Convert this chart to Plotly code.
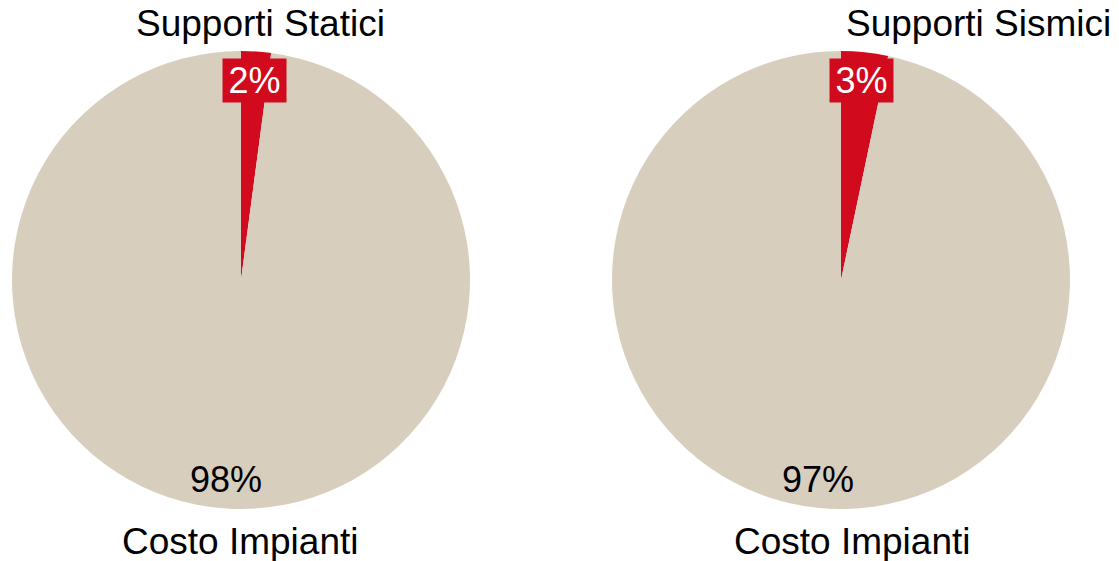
import math
import plotly.graph_objects as go

# ---- data ----
categories = ["Supporti Statici", "Costo Impianti"]
categories_right = ["Supporti Sismici", "Costo Impianti"]
values_left = [2.1, 97.9]
values_right = [3.3, 96.7]
colors = ["#D20A1E", "#D8CEBE"]

W, H = 1119, 561
R = 229
centers = [(241, 280), (841, 280)]
FONT = "Liberation Sans, Arial, sans-serif"

fig = go.Figure()
for (cx, cy), labels, vals in zip(centers, [categories, categories_right], [values_left, values_right]):
    fig.add_trace(go.Pie(
        labels=labels, values=vals, sort=False, direction="clockwise", rotation=0,
        marker=dict(colors=colors, line=dict(width=0)),
        textinfo="none", hoverinfo="label+percent", showlegend=False,
        domain=dict(x=[(cx - R) / W, (cx + R) / W], y=[1 - (cy + R) / H, 1 - (cy - R) / H]),
    ))

annotations = []
for (cx, cy), vals in zip(centers, [values_left, values_right]):
    total = sum(vals)
    start = 0.0
    for i, v in enumerate(vals):
        frac = v / total
        mid = (start + frac / 2) * 2 * math.pi
        start += frac
        rf = 0.875
        px = cx + rf * R * math.sin(mid) - (2 if i == 1 else 0)
        py = cy - rf * R * math.cos(mid)
        txt = f"{round(frac * 100):d}%"
        a = dict(x=px / W, y=1 - py / H, xref="paper", yref="paper", text=txt,
                 showarrow=False, xanchor="center", yanchor="middle",
                 font=dict(family=FONT, size=36, color="white" if i == 0 else "black"))
        if i == 0:
            a.update(bgcolor=colors[0], width=63, height=43, borderpad=0)
        annotations.append(a)

outer = [
    ("Supporti Statici", 260, 24),
    ("Costo Impianti", 240, 541),
    ("Supporti Sismici", 978, 24),
    ("Costo Impianti", 852, 541),
]
for t, x, y in outer:
    annotations.append(dict(x=x / W, y=1 - y / H, xref="paper", yref="paper", text=t,
                            showarrow=False, xanchor="center", yanchor="middle",
                            font=dict(family=FONT, size=37, color="black")))

fig.update_layout(width=W, height=H, margin=dict(l=0, r=0, t=0, b=0),
                  paper_bgcolor="white", plot_bgcolor="white", annotations=annotations)
fig.write_html("out.html")
